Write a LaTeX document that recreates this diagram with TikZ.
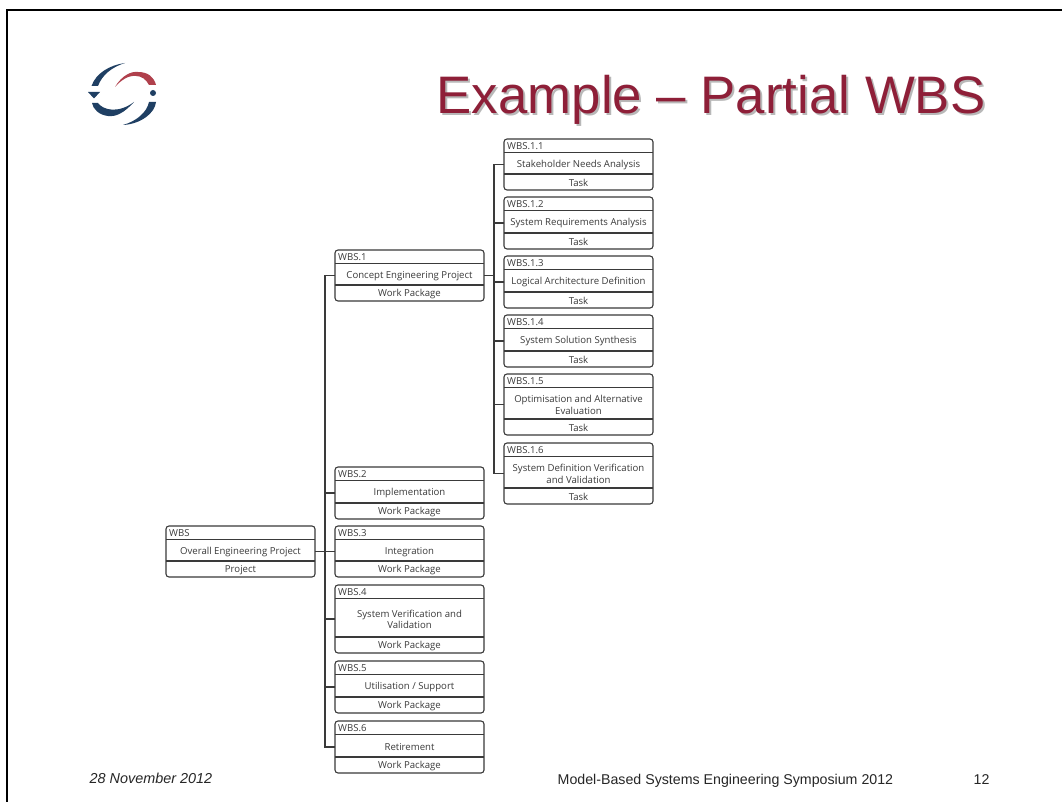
\documentclass[tikz,border=0pt]{standalone}
\usepackage{fontspec}
\setmainfont{Liberation Sans}
\newfontfamily\boxfont{Open Sans}
\definecolor{wine}{HTML}{8E1F38}
\definecolor{navy}{HTML}{1F3F63}
\definecolor{logored}{HTML}{B0404C}
\definecolor{ink}{HTML}{3A3A3A}
\tikzset{
  wbsouter/.style={draw=ink,line width=1.1pt,rounded corners=3pt,minimum width=149pt,inner sep=0pt,outer sep=0pt,fill=white},
  divider/.style={draw=ink,line width=1.1pt},
  conn/.style={draw=ink,line width=1.1pt},
  wbslabel/.style={font=\boxfont\fontsize{9.6}{11.8}\selectfont,text=ink,inner sep=0pt,align=center},
  titletext/.style={font=\fontsize{52.8}{58}\selectfont,text=wine,inner sep=0pt,anchor=base west},
  titleshadow/.style={font=\fontsize{52.8}{58}\selectfont,text=black!28,inner sep=0pt,anchor=base west},
  foot/.style={font=\fontsize{14.2}{16}\selectfont,text=black!85,inner sep=0pt,anchor=base west},
}
% id, left x, top y, bottom y, label, title, type
\newcommand{\wbsbox}[7]{%
  \pgfmathsetmacro{\bxc}{#2+74.5}%
  \pgfmathsetmacro{\byc}{(#3+#4)/2}%
  \pgfmathsetmacro{\bh}{#4-#3}%
  \node[wbsouter,minimum height=\bh pt] (#1) at (\bxc,\byc) {};
  \draw[divider] ([yshift=-13.5pt]#1.north west) -- ([yshift=-13.5pt]#1.north east);
  \draw[divider] ([yshift=16pt]#1.south west) -- ([yshift=16pt]#1.south east);
  \node[wbslabel,anchor=west] (#1h) at ([xshift=3pt,yshift=-6.7pt]#1.north west) {#5};
  \pgfmathsetmacro{\bt}{(#3+13.5+#4-16)/2+1.6}%
  \node[wbslabel] (#1t) at (\bxc,\bt) {#6};
  \node[wbslabel] (#1f) at ([yshift=7pt]#1.south) {#7};
}
\begin{document}
\begin{tikzpicture}[x=1pt,y=-1pt]
\useasboundingbox (0,0) rectangle (1062,802);
\fill[white] (0,0) rectangle (1062,802);
% slide frame
\draw[black,line width=2pt] (7,802) -- (7,10) -- (1062,10);
% logo
\fill[navy] (125,63) .. controls (110,65) and (96,73) .. (91.5,86) -- (98,86) .. controls (102,75) and (112,67) .. (125,63) -- cycle;
\fill[logored] (115,87) .. controls (122,75) and (132,71) .. (138,72) .. controls (148,72) and (154,77) .. (156,85) -- (149,85) .. controls (146,79) and (141,76) .. (136,76) .. controls (129,75) and (121,80) .. (115,87) -- cycle;
\fill[navy] (153,93) circle (3);
\fill[navy] (88,92) -- (100,92) -- (94,98.5) -- cycle;
\fill[navy] (92,103) -- (98,103) .. controls (103,110) and (118,114) .. (134,102) .. controls (124,113) and (116,117) .. (108,116) .. controls (99,115) and (93,109) .. (92,103) -- cycle;
\fill[navy] (149,102) -- (156,102) .. controls (155,113) and (141,124) .. (123,125) .. controls (137,121) and (147,112) .. (149,102) -- cycle;
% title
\node[titleshadow] (titleS) at (438.5,115.5) {Example – Partial WBS};
\node[titletext] (title) at (436.5,113.5) {Example – Partial WBS};
% boxes
\wbsbox{w}{166}{526}{577}{WBS}{Overall Engineering Project}{Project}
\wbsbox{wa}{335}{250}{301}{WBS.1}{Concept Engineering Project}{Work Package}
\wbsbox{wb}{335}{467}{519}{WBS.2}{Implementation}{Work Package}
\wbsbox{wc}{335}{526}{577}{WBS.3}{Integration}{Work Package}
\wbsbox{wd}{335}{585}{653}{WBS.4}{System Verification and\\Validation}{Work Package}
\wbsbox{we}{335}{661}{713}{WBS.5}{Utilisation / Support}{Work Package}
\wbsbox{wf}{335}{721}{773}{WBS.6}{Retirement}{Work Package}
\wbsbox{sa}{504}{139}{190}{WBS.1.1}{Stakeholder Needs Analysis}{Task}
\wbsbox{sb}{504}{197}{249}{WBS.1.2}{System Requirements Analysis}{Task}
\wbsbox{sc}{504}{256}{308}{WBS.1.3}{Logical Architecture Definition}{Task}
\wbsbox{sd}{504}{315}{367}{WBS.1.4}{System Solution Synthesis}{Task}
\wbsbox{se}{504}{374}{435}{WBS.1.5}{Optimisation and Alternative\\Evaluation}{Task}
\wbsbox{sf}{504}{443}{504}{WBS.1.6}{System Definition Verification\\and Validation}{Task}
% connectors
\coordinate (tr) at (325,0);
\coordinate (st) at (494,0);
\draw[conn] (w.east) -- (wc.west);
\draw[conn] (wa.west) -- (wa.west -| tr) -- (wf.west -| tr) -- (wf.west);
\foreach \n in {wb,wd,we} \draw[conn] (\n.west) -- (\n.west -| tr);
\draw[conn] (wa.east) -- (wa.east -| st);
\draw[conn] (sa.west) -- (sa.west -| st) -- (sf.west -| st) -- (sf.west);
\foreach \n in {sb,sc,sd,se} \draw[conn] (\n.west) -- (\n.west -| st);
% footer
\node[foot,font=\fontsize{14.4}{16}\selectfont\itshape] (date) at (89.5,783) {28 November 2012};
\node[foot] (event) at (557.5,784) {Model-Based Systems Engineering Symposium 2012};
\node[foot] (page) at (973.5,784) {12};
\end{tikzpicture}
\end{document}
